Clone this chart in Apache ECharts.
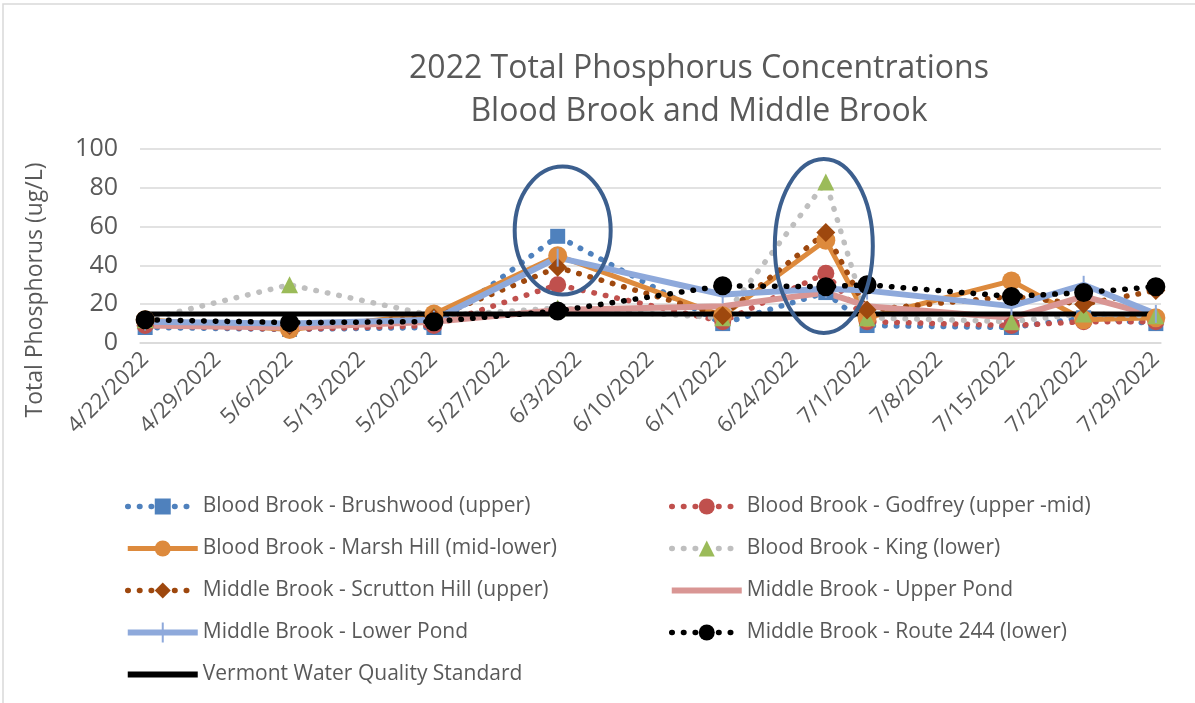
<!DOCTYPE html>
<html>
<head>
<meta charset="utf-8">
<script src="https://cdn.jsdelivr.net/npm/echarts@6/dist/echarts.min.js"></script>
<style>
  html, body { margin: 0; padding: 0; background: #fff; }
  #chart { width: 1195px; height: 703px; }
</style>
</head>
<body>
<div id="chart"></div>
<script>
// sample dates (one value per date in every series)
const sampleDates = ['4/22/2022', '5/6/2022', '5/20/2022', '6/1/2022', '6/17/2022',
  '6/27/2022', '7/1/2022', '7/15/2022', '7/22/2022', '7/29/2022']

const brushwood   = [8, 7, 8, 55, 10, 26, 9, 8, 13, 10]
const godfrey     = [9, 7, 9, 30, 11, 36, 11, 9, 11, 11]
const marshHill   = [12, 7, 15, 45, 14, 53, 13, 32, 12, 13]
const king        = [12, 30, 14, 18, 13, 83, 13, 11, 15, 14]
const scrutton    = [11, 9, 13, 39, 14, 57, 17, 24, 20, 27]
const upperPond   = [9, 8, 11, 17, 19, 26, 19, 13, 24, 14]
const lowerPond   = [11, 10, 12, 44, 25, 28, 27, 19, 30, 15]
const route244    = [12, 10.5, 11, 16.5, 29.5, 29, 30, 24, 26, 29]
const vermontStd  = [15, 15, 15, 15, 15, 15, 15, 15, 15, 15]

const yTicks = [0, 20, 40, 60, 80, 100]

// daily category axis from first to last sample, labelled weekly
const days = []
for (let d = new Date(2022, 3, 22); d <= new Date(2022, 6, 29); d.setDate(d.getDate() + 1)) {
  days.push((d.getMonth() + 1) + '/' + d.getDate() + '/' + d.getFullYear())
}

const FONT = '"Open Sans", sans-serif'
const GREY = '#595959'

function pairs(values) {
  return sampleDates.map((d, i) => [d, values[i]])
}

function dotted(color) {
  return { color, width: 5.5, type: [0.5, 11.2], cap: 'round' }
}

const barIcon = 'path://M0,0 L70,0 L70,6 L0,6 Z'
const tickBarIcon = 'path://M0,7 L70,7 L70,13 L0,13 Z M34,0 L36,0 L36,20 L34,20 Z'

const chart = echarts.init(document.getElementById('chart'), null, { renderer: 'canvas' })

const legendBase = {
  orient: 'vertical',
  top: 491,
  itemWidth: 70,
  itemHeight: 20,
  itemGap: 21,
  lineStyle: { width: 'inherit' },
  textStyle: { color: GREY, fontSize: 21, fontFamily: FONT, lineHeight: 20 },
}

const option = {
  animation: false,
  textStyle: { fontFamily: FONT },
  title: {
    text: '2022 Total Phosphorus Concentrations\nBlood Brook and Middle Brook',
    left: 694,
    top: 42,
    textAlign: 'center',
    textStyle: { fontFamily: FONT, fontSize: 32, fontWeight: 'normal', color: GREY, lineHeight: 43 },
  },
  grid: { left: 140, right: 34, top: 149, bottom: 360 },
  xAxis: {
    type: 'category',
    data: days,
    boundaryGap: true,
    axisLine: { lineStyle: { color: '#d9d9d9', width: 1.5 } },
    axisTick: { show: false },
    axisLabel: {
      interval: 6,
      rotate: 45,
      margin: 13,
      color: GREY,
      fontSize: 22,
      fontFamily: FONT,
    },
  },
  yAxis: {
    type: 'value',
    min: yTicks[0],
    max: yTicks[yTicks.length - 1],
    interval: 20,
    axisLine: { show: false },
    axisTick: { show: false },
    splitLine: { lineStyle: { color: '#d9d9d9', width: 1.5 } },
    axisLabel: { color: GREY, fontSize: 25, fontFamily: FONT, margin: 22 },
  },
  legend: [
    Object.assign({}, legendBase, {
      left: 120,
      data: [
        'Blood Brook - Brushwood (upper)',
        'Blood Brook - Marsh Hill (mid-lower)',
        'Middle Brook - Scrutton Hill (upper)',
        { name: 'Middle Brook - Lower Pond', icon: tickBarIcon },
        { name: 'Vermont Water Quality Standard', icon: barIcon },
      ],
    }),
    Object.assign({}, legendBase, {
      left: 664,
      data: [
        'Blood Brook - Godfrey (upper -mid)',
        'Blood Brook - King (lower)',
        { name: 'Middle Brook - Upper Pond', icon: barIcon },
        'Middle Brook - Route 244 (lower)',
      ],
    }),
  ],
  series: [
    {
      name: 'Blood Brook - Brushwood (upper)',
      type: 'line',
      data: pairs(brushwood),
      symbol: 'rect',
      symbolSize: 15,
      itemStyle: { color: '#4F81BD' },
      lineStyle: dotted('#4F81BD'),
    },
    {
      name: 'Blood Brook - Godfrey (upper -mid)',
      type: 'line',
      data: pairs(godfrey),
      symbol: 'circle',
      symbolSize: 17,
      itemStyle: { color: '#C0504D' },
      lineStyle: dotted('#C0504D'),
    },
    {
      name: 'Blood Brook - Marsh Hill (mid-lower)',
      type: 'line',
      data: pairs(marshHill),
      symbol: 'circle',
      symbolSize: 19,
      itemStyle: { color: '#DD8A3D' },
      lineStyle: { color: '#DD8A3D', width: 5 },
    },
    {
      name: 'Blood Brook - King (lower)',
      type: 'line',
      data: pairs(king),
      symbol: 'triangle',
      symbolSize: 17,
      itemStyle: { color: '#9BBB59' },
      lineStyle: dotted('#BFBFBF'),
    },
    {
      name: 'Middle Brook - Scrutton Hill (upper)',
      type: 'line',
      data: pairs(scrutton),
      symbol: 'diamond',
      symbolSize: 19,
      itemStyle: { color: '#9E480E' },
      lineStyle: dotted('#9E480E'),
    },
    {
      name: 'Middle Brook - Upper Pond',
      type: 'line',
      data: pairs(upperPond),
      symbol: 'none',
      itemStyle: { color: '#D99694' },
      lineStyle: { color: '#D99694', width: 6 },
    },
    {
      name: 'Middle Brook - Lower Pond',
      type: 'line',
      data: pairs(lowerPond),
      symbol: 'rect',
      symbolSize: [2, 18],
      itemStyle: { color: '#8EA9DB' },
      lineStyle: { color: '#8EA9DB', width: 6 },
    },
    {
      name: 'Middle Brook - Route 244 (lower)',
      type: 'line',
      data: pairs(route244),
      symbol: 'circle',
      symbolSize: 19,
      itemStyle: { color: '#000000' },
      lineStyle: dotted('#000000'),
    },
    {
      name: 'Vermont Water Quality Standard',
      type: 'line',
      data: pairs(vermontStd),
      symbol: 'none',
      itemStyle: { color: '#000000' },
      lineStyle: { color: '#000000', width: 5 },
    },
  ].map(s => Object.assign({ showSymbol: true, showAllSymbol: true }, s)),
}

chart.setOption(option)

// annotation ellipses placed in data space
const c1 = chart.convertToPixel({ gridIndex: 0 }, ['6/1/2022', 58])
const c2 = chart.convertToPixel({ gridIndex: 0 }, ['6/27/2022', 50])

chart.setOption({
  graphic: [
    {
      type: 'rect',
      shape: { x: 3, y: 4, width: 1260, height: 760 },
      style: { fill: 'none', stroke: '#d9d9d9', lineWidth: 1.5 },
      silent: true,
    },
    {
      type: 'text',
      x: 35,
      y: 290,
      rotation: Math.PI / 2,
      style: {
        text: 'Total Phosphorus (ug/L)',
        font: '23px ' + FONT,
        fill: GREY,
        align: 'center',
        verticalAlign: 'middle',
      },
    },
    {
      type: 'ellipse',
      shape: { cx: c1[0] + 5, cy: c1[1], rx: 48, ry: 64 },
      style: { fill: 'none', stroke: '#3C5F8E', lineWidth: 4 },
      z: 100,
    },
    {
      type: 'ellipse',
      shape: { cx: c2[0] - 2, cy: c2[1], rx: 49, ry: 87 },
      style: { fill: 'none', stroke: '#3C5F8E', lineWidth: 4 },
      z: 100,
    },
  ],
})
</script>
</body>
</html>
